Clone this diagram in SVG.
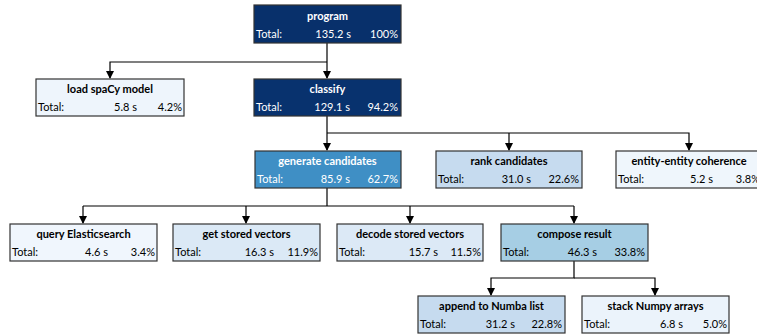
<svg xmlns="http://www.w3.org/2000/svg" width="757" height="335" viewBox="0 0 757 335">
<defs>
<marker id="ah" viewBox="0 0 10 10" refX="10" refY="5" markerWidth="8" markerHeight="8" markerUnits="userSpaceOnUse" orient="auto">
<path d="M0,0 L10,5 L0,10 Z" fill="#000"/>
</marker>
<style>
.box{stroke:#333;stroke-width:1.2}
text{font-family:Lato,"Open Sans","Liberation Sans",sans-serif;font-size:11px}
.t{font-weight:bold;text-anchor:middle}
.r{text-anchor:end}
.w{fill:#fff}
.k{fill:#000}
.c{fill:none;stroke:#000;stroke-width:1.2}
</style>
</defs>
<rect width="757" height="335" fill="#fff"/>
<g id="connectors">
<path class="c" d="M327,43 V78"/>
<path class="c" d="M327,62 H110 V78"/>
<path class="c" d="M327,116 V150"/>
<path class="c" d="M327,133 H689 V150"/>
<path class="c" d="M509,133 V150"/>
<path class="c" d="M327,188 V206"/>
<path class="c" d="M83,206 H574"/>
<path class="c" d="M83,206 V223"/>
<path class="c" d="M246,206 V223"/>
<path class="c" d="M410,206 V223"/>
<path class="c" d="M574,206 V223"/>
<path class="c" d="M574,261 V278 H491 V295"/>
<path class="c" d="M574,278 H655 V295"/>
<g fill="#000">
<path d="M110,79 l-4,-8 h8 z"/>
<path d="M327,79 l-4,-8 h8 z"/>
<path d="M327,151 l-4,-8 h8 z"/>
<path d="M509,151 l-4,-8 h8 z"/>
<path d="M689,151 l-4,-8 h8 z"/>
<path d="M83,224 l-4,-8 h8 z"/>
<path d="M246,224 l-4,-8 h8 z"/>
<path d="M410,224 l-4,-8 h8 z"/>
<path d="M574,224 l-4,-8 h8 z"/>
<path d="M491,296 l-4,-8 h8 z"/>
<path d="M655,296 l-4,-8 h8 z"/>
</g>
</g>
<g id="program">
<rect class="box" x="254" y="5" width="147" height="38" fill="#08306b"/>
<text class="t w" x="327.5" y="20">program</text>
<text class="w" x="256" y="38">Total:</text>
<text class="r w" x="351" y="38">135.2 s</text>
<text class="r w" x="398" y="38">100%</text>
</g>
<g id="load">
<rect class="box" x="36" y="79" width="148" height="37" fill="#eef5fc"/>
<text class="t k" x="110" y="93">load spaCy model</text>
<text class="k" x="38" y="111">Total:</text>
<text class="r k" x="137" y="111">5.8 s</text>
<text class="r k" x="182" y="111">4.2%</text>
</g>
<g id="classify">
<rect class="box" x="254" y="79" width="147" height="37" fill="#08326e"/>
<text class="t w" x="327.5" y="93">classify</text>
<text class="w" x="256" y="111">Total:</text>
<text class="r w" x="350" y="111">129.1 s</text>
<text class="r w" x="398" y="111">94.2%</text>
</g>
<g id="generate">
<rect class="box" x="255" y="151" width="146" height="37" fill="#3f8fc5"/>
<text class="t w" x="327.5" y="165">generate candidates</text>
<text class="w" x="257" y="183">Total:</text>
<text class="r w" x="350" y="183">85.9 s</text>
<text class="r w" x="398" y="183">62.7%</text>
</g>
<g id="rank">
<rect class="box" x="436" y="151" width="146" height="37" fill="#c6dbef"/>
<text class="t k" x="509" y="165">rank candidates</text>
<text class="k" x="438" y="183">Total:</text>
<text class="r k" x="531" y="183">31.0 s</text>
<text class="r k" x="579" y="183">22.6%</text>
</g>
<g id="entity">
<rect class="box" x="616" y="151" width="147" height="37" fill="#eff6fc"/>
<text class="t k" x="689" y="165">entity-entity coherence</text>
<text class="k" x="618" y="183">Total:</text>
<text class="r k" x="713" y="183">5.2 s</text>
<text class="r k" x="760" y="183">3.8%</text>
</g>
<g id="query">
<rect class="box" x="10" y="224" width="147" height="37" fill="#f0f6fd"/>
<text class="t k" x="83.5" y="238">query Elasticsearch</text>
<text class="k" x="12" y="256">Total:</text>
<text class="r k" x="108" y="256">4.6 s</text>
<text class="r k" x="155" y="256">3.4%</text>
</g>
<g id="getvec">
<rect class="box" x="173" y="224" width="147" height="37" fill="#dbe9f6"/>
<text class="t k" x="246.5" y="238">get stored vectors</text>
<text class="k" x="175" y="256">Total:</text>
<text class="r k" x="274" y="256">16.3 s</text>
<text class="r k" x="318" y="256">11.9%</text>
</g>
<g id="decode">
<rect class="box" x="337" y="224" width="146" height="37" fill="#dce9f6"/>
<text class="t k" x="410" y="238">decode stored vectors</text>
<text class="k" x="339" y="256">Total:</text>
<text class="r k" x="438" y="256">15.7 s</text>
<text class="r k" x="481" y="256">11.5%</text>
</g>
<g id="compose">
<rect class="box" x="501" y="224" width="147" height="37" fill="#a6cee4"/>
<text class="t k" x="574.5" y="238">compose result</text>
<text class="k" x="503" y="256">Total:</text>
<text class="r k" x="597" y="256">46.3 s</text>
<text class="r k" x="645" y="256">33.8%</text>
</g>
<g id="append">
<rect class="box" x="418" y="296" width="147" height="37" fill="#c6dbef"/>
<text class="t k" x="491.5" y="310">append to Numba list</text>
<text class="k" x="420" y="328">Total:</text>
<text class="r k" x="515" y="328">31.2 s</text>
<text class="r k" x="562" y="328">22.8%</text>
</g>
<g id="stack">
<rect class="box" x="582" y="296" width="147" height="37" fill="#ebf3fb"/>
<text class="t k" x="655.5" y="310">stack Numpy arrays</text>
<text class="k" x="584" y="328">Total:</text>
<text class="r k" x="683" y="328">6.8 s</text>
<text class="r k" x="727" y="328">5.0%</text>
</g>
</svg>
